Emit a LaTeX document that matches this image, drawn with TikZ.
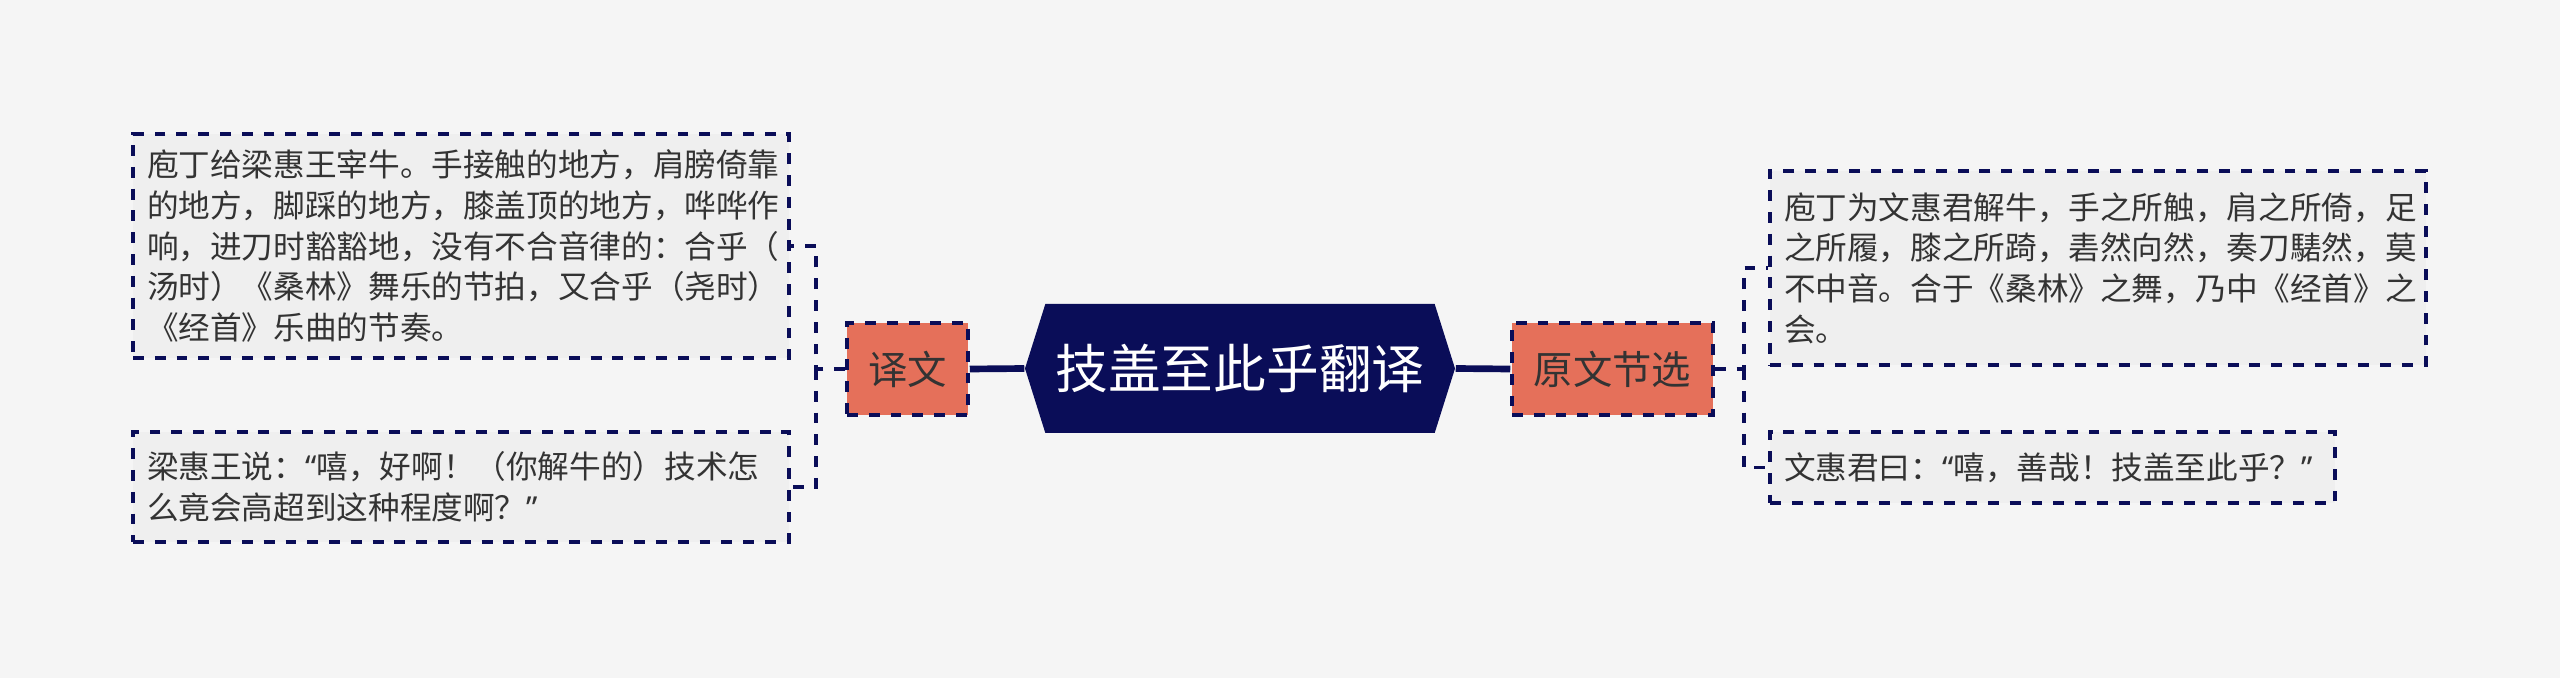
\documentclass[tikz,border=0pt]{standalone}
\usepackage{fontspec}
\newfontfamily\cjk{Noto Sans CJK SC}
\newfontfamily\quotefont{Noto Sans}
\definecolor{bgcolor}{RGB}{245, 245, 245}
\definecolor{leaffill}{RGB}{239, 239, 239}
\definecolor{rootblue}{RGB}{10, 13, 88}
\definecolor{branchred}{RGB}{229, 112, 90}
\definecolor{textdark}{RGB}{51, 51, 51}
\usetikzlibrary{shapes.symbols, positioning, calc}

% proportional quotation marks
\newcommand{\openq}{{\quotefont “}}
\newcommand{\closeq}{{\quotefont ”}}

\tikzset{
    dashbox/.style={draw=rootblue, line width=1pt, dash pattern=on 3.1pt off 3.1pt},
    branchbox/.style={dashbox, fill=branchred, text=textdark, inner sep=0pt,
        font=\cjk\fontsize{11.2pt}{13pt}\selectfont, minimum height=0.92cm},
    leafbox/.style={dashbox, fill=leaffill, text=textdark, align=left,
        font=\cjk\fontsize{9pt}{11.6pt}\selectfont, inner xsep=0.14cm, inner ysep=0pt},
    link/.style={rootblue, line width=1pt, dash pattern=on 3.1pt off 3.1pt},
    trunk/.style={rootblue, line width=1.9pt}
}

\begin{document}
\begin{tikzpicture}
                % Canvas
                \fill[bgcolor] (0,0) rectangle (25.6,6.78);
                \useasboundingbox (0,0) rectangle (25.6,6.78);

                % Root
                \node[signal, signal to=west and east, signal pointer angle=145,
                    fill=rootblue, text=white, inner sep=0pt,
                    font=\cjk\fontsize{15pt}{18pt}\selectfont,
                    minimum width=4.30cm, minimum height=1.29cm] (title) at (12.40,3.095) {技盖至此乎翻译};

                % Branches
                \node[branchbox, minimum width=1.21cm] (yiwen) at (9.075,3.09) {译文};
                \node[branchbox, minimum width=2.01cm] (yuanwen) at (16.125,3.09) {原文节选};

                % Left leaves
                \node[leafbox, text width=6.28cm, minimum height=2.24cm] (zuoA) at (4.61,4.32)
                    {庖丁给梁惠王宰牛。手接触的地方，肩膀倚靠\\
                     的地方，脚踩的地方，膝盖顶的地方，哗哗作\\
                     响，进刀时豁豁地，没有不合音律的：合乎（\\
                     汤时）《桑林》舞乐的节拍，又合乎（尧时）\\
                     《经首》乐曲的节奏。};
                \node[leafbox, text width=6.28cm, minimum height=1.10cm] (zuoB) at (4.61,1.91)
                    {梁惠王说：\openq 嘻，好啊！（你解牛的）技术怎\\
                     么竟会高超到这种程度啊？\closeq};

                % Right leaves
                \node[leafbox, text width=6.28cm, minimum height=1.94cm] (youA) at (20.98,4.10)
                    {庖丁为文惠君解牛，手之所触，肩之所倚，足\\
                     之所履，膝之所踦，砉然向然，奏刀騞然，莫\\
                     不中音。合于《桑林》之舞，乃中《经首》之\\
                     会。};
                \node[leafbox, text width=5.37cm, minimum height=0.71cm] (youB) at (20.525,2.105)
                    {文惠君曰：\openq 嘻，善哉！技盖至此乎？\closeq};

                % Trunk lines
                \draw[trunk] (title.west) -- (yiwen.east);
                \draw[trunk] (title.east) -- (yuanwen.west);

                % Left links
                \draw[link] (yiwen.west) -- ++(-0.29,0) coordinate (zuoJ) |- (zuoA.east);
                \draw[link] (zuoJ) |- (zuoB.east);

                % Right links
                \draw[link] (yuanwen.east) -- ++(0.29,0) coordinate (youJ) |- (youA.west);
                \draw[link] (youJ) |- (youB.west);
\end{tikzpicture}
\end{document}
